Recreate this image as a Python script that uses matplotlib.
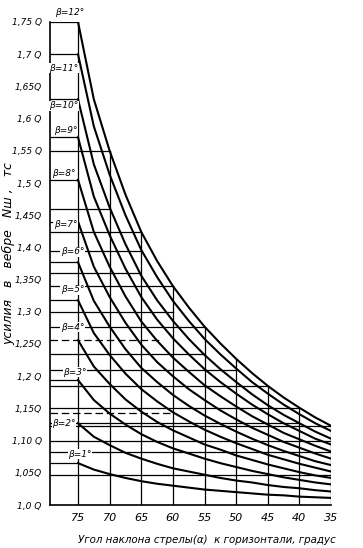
import numpy as np
import matplotlib
matplotlib.use("Agg")
import matplotlib.pyplot as plt

# boom angle, degrees (x axis runs from 75 down to 35)
alpha = [75, 72.5, 70, 67.5, 65, 62.5, 60, 57.5, 55, 52.5, 50, 47.5, 45, 42.5, 40, 37.5, 35]
betas = [1, 2, 3, 4, 5, 6, 7, 8, 9, 10, 11, 12]

# force in units of Q, one row per beta
force = [
    [1.065, 1.055, 1.048, 1.042, 1.037, 1.033, 1.030, 1.027, 1.024, 1.022, 1.020, 1.018, 1.016, 1.015, 1.013, 1.012, 1.011],
    [1.127, 1.106, 1.093, 1.081, 1.072, 1.064, 1.057, 1.052, 1.047, 1.042, 1.038, 1.035, 1.031, 1.028, 1.026, 1.023, 1.021],
    [1.194, 1.163, 1.142, 1.125, 1.110, 1.098, 1.088, 1.080, 1.072, 1.065, 1.059, 1.053, 1.048, 1.043, 1.039, 1.035, 1.032],
    [1.256, 1.215, 1.188, 1.164, 1.145, 1.129, 1.116, 1.105, 1.094, 1.086, 1.077, 1.070, 1.063, 1.057, 1.051, 1.046, 1.042],
    [1.318, 1.267, 1.233, 1.204, 1.180, 1.161, 1.144, 1.130, 1.117, 1.106, 1.096, 1.087, 1.078, 1.071, 1.064, 1.058, 1.052],
    [1.377, 1.317, 1.277, 1.242, 1.213, 1.191, 1.171, 1.154, 1.139, 1.126, 1.114, 1.103, 1.093, 1.084, 1.076, 1.068, 1.062],
    [1.440, 1.370, 1.323, 1.283, 1.249, 1.222, 1.200, 1.180, 1.163, 1.147, 1.133, 1.120, 1.109, 1.098, 1.089, 1.080, 1.072],
    [1.505, 1.424, 1.370, 1.324, 1.285, 1.255, 1.229, 1.207, 1.186, 1.169, 1.153, 1.138, 1.125, 1.112, 1.102, 1.092, 1.083],
    [1.571, 1.479, 1.419, 1.367, 1.323, 1.288, 1.259, 1.234, 1.211, 1.191, 1.173, 1.156, 1.141, 1.127, 1.115, 1.103, 1.094],
    [1.630, 1.529, 1.462, 1.405, 1.356, 1.318, 1.286, 1.258, 1.233, 1.211, 1.191, 1.172, 1.155, 1.140, 1.127, 1.114, 1.103],
    [1.700, 1.588, 1.513, 1.450, 1.396, 1.354, 1.317, 1.286, 1.258, 1.234, 1.212, 1.191, 1.173, 1.156, 1.141, 1.127, 1.115],
    [1.750, 1.630, 1.550, 1.482, 1.424, 1.379, 1.340, 1.307, 1.277, 1.251, 1.227, 1.205, 1.185, 1.167, 1.151, 1.136, 1.123],
]

grid_alpha = [75, 70, 65, 60, 55, 50, 45, 40, 35]
grid_top = [1.75, 1.55, 1.424, 1.34, 1.277, 1.227, 1.185, 1.151, 1.123]

# horizontal reading lines: level and the angle where they stop
hline_vals = [1.75, 1.70, 1.63, 1.571, 1.55, 1.505, 1.46, 1.44, 1.424, 1.395, 1.377,
              1.36, 1.34, 1.318, 1.30, 1.277, 1.234, 1.21, 1.194, 1.185, 1.151,
              1.128, 1.123, 1.10, 1.082, 1.065, 1.047]
hline_ends = [75, 75, 75, 75, 70, 75, 70, 75, 65, 65, 75,
              65, 60, 75, 60, 55, 55, 50, 75, 45, 40,
              40, 35, 35, 35, 75, 35]
dashed_vals = [1.256, 1.143]
dashed_ends = [62, 60]

ytick_vals = [1.0, 1.05, 1.10, 1.15, 1.2, 1.25, 1.3, 1.35, 1.4, 1.45, 1.5, 1.55, 1.6, 1.65, 1.7, 1.75]
ytick_labels = ["1,0 Q", "1,05Q", "1,10 Q", "1,15Q", "1,2 Q", "1,25Q", "1,3 Q", "1,35Q",
                "1,4 Q", "1,45Q", "1,5 Q", "1,55 Q", "1,6 Q", "1,65Q", "1,7 Q", "1,75 Q"]
xtick_vals = [75, 70, 65, 60, 55, 50, 45, 40, 35]

# label positions (angle, force) for the beta captions
label_pos = [(74.7, 1.079), (77.2, 1.126), (75.5, 1.206), (75.9, 1.276), (75.9, 1.334),
             (75.9, 1.393), (77.0, 1.436), (77.2, 1.515), (77.0, 1.582), (77.2, 1.620),
             (77.2, 1.678), (76.4, 1.765)]

fig = plt.figure(figsize=(3.63, 5.48), dpi=100)
ax = fig.add_axes([50 / 363, 1 - 505 / 548, 281 / 363, 483 / 548])
ax.set_xlim(79.43, 35)
ax.set_ylim(1.0, 1.75)

lw_grid = 0.9
for a, top in zip(grid_alpha, grid_top):
    ax.plot([a, a], [1.0, top], color="black", lw=lw_grid)
for v, e in zip(hline_vals, hline_ends):
    ax.plot([79.43, e], [v, v], color="black", lw=lw_grid)
for v, e in zip(dashed_vals, dashed_ends):
    ax.plot([79.43, e], [v, v], color="black", lw=lw_grid, ls=(0, (6, 3)))

for row in force:
    ax.plot(alpha, row, color="black", lw=1.5, solid_joinstyle="round")

for b, (xa, yv) in zip(betas, label_pos):
    ax.text(xa, yv, f"β={b}°", fontsize=6.5, style="italic", ha="center", va="center",
            bbox=dict(facecolor="white", edgecolor="none", pad=0.3), clip_on=False)

for s in ["top", "right"]:
    ax.spines[s].set_visible(False)
ax.spines["left"].set_linewidth(1.2)
ax.spines["bottom"].set_linewidth(1.2)

ax.set_yticks(ytick_vals)
ax.set_yticklabels(ytick_labels, fontsize=6.5, style="italic")
ax.set_xticks(xtick_vals)
ax.set_xticklabels([str(v) for v in xtick_vals], fontsize=8, style="italic")
ax.tick_params(length=0, pad=6)

ax.set_xlabel("Угол наклона стрелы(α)  к горизонтали, градус", fontsize=7.4,
              style="italic")
ax.xaxis.set_label_coords(0.56, -0.062)
ax.set_ylabel("усилия   в   вебре   Nш ,   тс", fontsize=9, style="italic")
ax.yaxis.set_label_coords(-0.125, 0.52)

fig.savefig("out.png", dpi=100)
